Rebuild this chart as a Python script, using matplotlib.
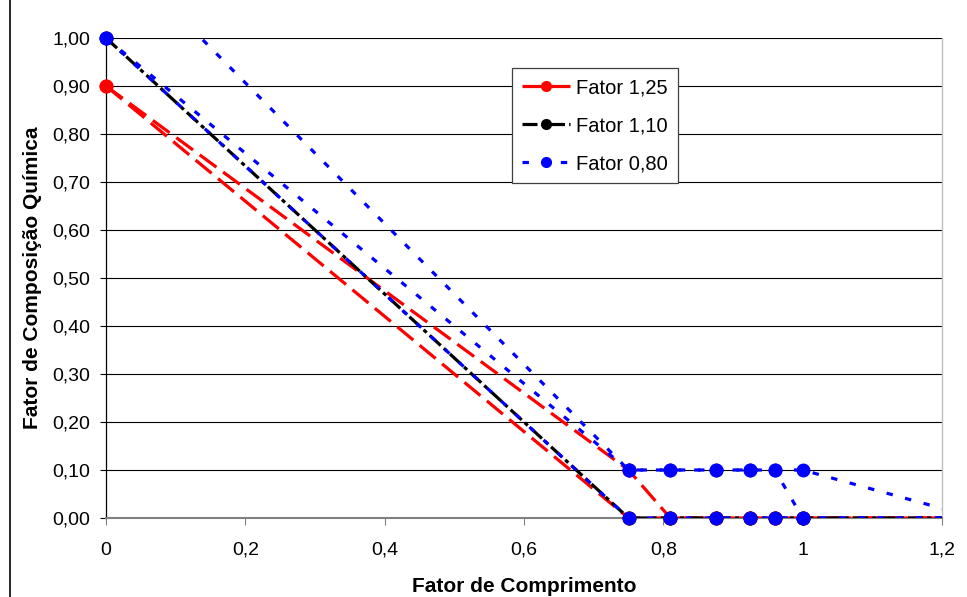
import matplotlib
matplotlib.use("Agg")
import matplotlib.pyplot as plt
from matplotlib.lines import Line2D
from matplotlib.patches import Rectangle

plt.rcParams['font.family'] = ['Liberation Sans', 'DejaVu Sans']

# ---- data ----
x_pts = [0.0, 0.75, 0.81, 0.875, 0.925, 0.96, 1.0, 1.25]
red_a = [0.90, 0.00, 0.00, 0.00, 0.00, 0.00, 0.00, 0.00]
red_b = [0.90, 0.10, 0.00, 0.00, 0.00, 0.00, 0.00, 0.00]
black_a = [1.00, 0.00, 0.00, 0.00, 0.00, 0.00, 0.00, 0.00]
blue_a = [1.00, 0.00, 0.00, 0.00, 0.00, 0.00, 0.00, 0.00]
blue_b = [1.00, 0.10, 0.10, 0.10, 0.10, 0.10, 0.10, 0.00]
blue_c = [1.20, 0.10, 0.10, 0.10, 0.10, 0.10, 0.00, 0.00]

legend_labels = ['Fator 1,25', 'Fator 1,10', 'Fator 0,80']
y_ticks = [0.0, 0.1, 0.2, 0.3, 0.4, 0.5, 0.6, 0.7, 0.8, 0.9, 1.0]
y_tick_labels = ['0,00', '0,10', '0,20', '0,30', '0,40', '0,50', '0,60', '0,70', '0,80', '0,90', '1,00']
x_ticks = [0.0, 0.2, 0.4, 0.6, 0.8, 1.0, 1.2]
x_tick_labels = ['0', '0,2', '0,4', '0,6', '0,8', '1', '1,2']
x_title = 'Fator de Comprimento'
y_title = 'Fator de Composição Química'

# ---- styles ----
RED, BLACK, BLUE = '#ff0000', '#000000', '#0000ff'
LW = 2.3
RED_LS = (0, (6.5, 2.6))
BLACK_LS = (0, (4.7, 1.3, 1.3, 1.3))
BLUE_LS = (0, (2.0, 4.0))
MS = 9

XMAX, YMAX = 1.2, 1.0

fig = plt.figure(figsize=(9.67, 5.97), dpi=100)
ax = fig.add_axes([106 / 967, 1 - 518 / 597, 836 / 967, 480 / 597])

# outer chart frame
fig.add_artist(Rectangle((10 / 967, -0.2), 1.2, 1.2 + (1 - 8 / 597), transform=fig.transFigure,
                         fill=False, edgecolor='black', lw=1.2))

ax.set_xlim(0, XMAX)
ax.set_ylim(0, YMAX)

for y in y_ticks[1:]:
    ax.axhline(y, color='black', lw=0.8, zorder=1)


def draw(ys, color, ls, z):
    ax.plot(x_pts, ys, color=color, lw=LW, linestyle=ls, zorder=z)
    mx = [x for x, y in zip(x_pts, ys) if x <= XMAX and y <= YMAX]
    my = [y for x, y in zip(x_pts, ys) if x <= XMAX and y <= YMAX]
    ax.plot(mx, my, linestyle='none', marker='o', ms=MS, color=color, zorder=z + 0.5, clip_on=False)


draw(red_a, RED, RED_LS, 3)
draw(red_b, RED, RED_LS, 3)
draw(black_a, BLACK, BLACK_LS, 4)
draw(blue_a, BLUE, BLUE_LS, 5)
draw(blue_b, BLUE, BLUE_LS, 5)
draw(blue_c, BLUE, BLUE_LS, 5)

ax.set_yticks(y_ticks)
ax.set_yticklabels(y_tick_labels)
ax.set_xticks(x_ticks)
ax.set_xticklabels(x_tick_labels)
ax.tick_params(axis='y', direction='out', length=4.5, width=0.8, pad=7, labelsize=14)
ax.tick_params(axis='x', direction='out', length=5, width=0.8, pad=12, labelsize=14, color='#808080')

ax.spines['left'].set_color('black')
ax.spines['left'].set_linewidth(0.9)
ax.spines['bottom'].set_color('#808080')
ax.spines['bottom'].set_linewidth(1.5)
ax.spines['right'].set_color('#c0c0c0')
ax.spines['right'].set_linewidth(1.0)
ax.spines['top'].set_visible(False)

ax.set_xlabel(x_title, fontsize=15, fontweight='bold', labelpad=13)
ax.set_ylabel(y_title, fontsize=15, fontweight='bold', labelpad=7)

handles = [
    Line2D([], [], color=RED, lw=LW, linestyle=RED_LS, marker='o', ms=7),
    Line2D([], [], color=BLACK, lw=LW, linestyle=BLACK_LS, marker='o', ms=7),
    Line2D([], [], color=BLUE, lw=LW, linestyle=BLUE_LS, marker='o', ms=7),
]
leg = ax.legend(handles, legend_labels, loc='upper left', bbox_to_anchor=(0.4856, 0.9375),
                borderaxespad=0, fontsize=14.5, frameon=True, fancybox=False,
                handlelength=2.4, handletextpad=0.3, labelspacing=0.95, borderpad=0.5)
leg.get_frame().set_edgecolor('#404040')
leg.get_frame().set_linewidth(0.9)
leg.get_frame().set_facecolor('white')
leg.get_frame().set_alpha(1)
leg.set_zorder(10)

fig.savefig('out.png', dpi=100)
